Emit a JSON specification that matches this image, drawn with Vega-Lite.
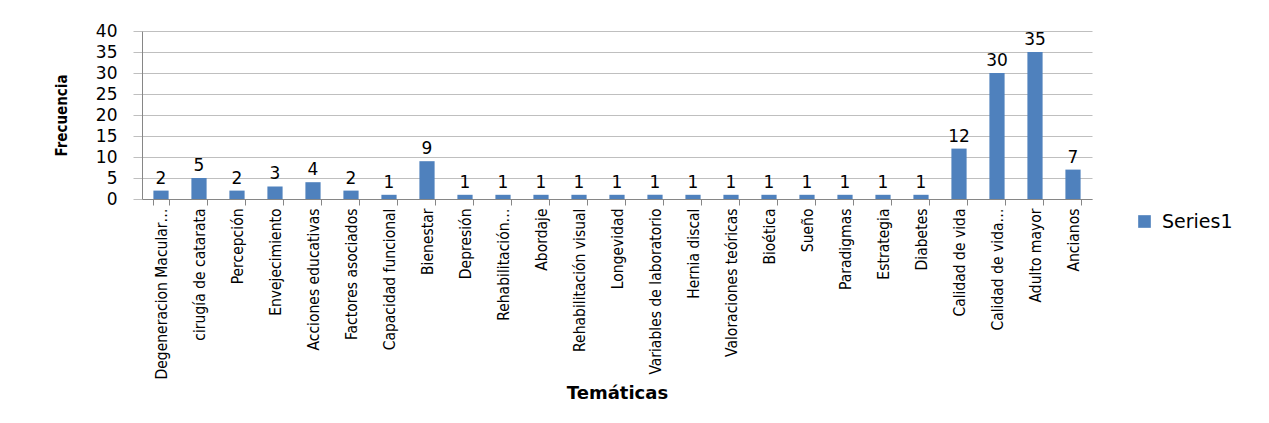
{
  "$schema": "https://vega.github.io/schema/vega-lite/v6.json",
  "autosize": {"type": "none"},
  "width": 950,
  "height": 168,
  "padding": {"left": 142, "top": 31, "right": 177, "bottom": 224},
  "background": "white",
  "data": {
    "values": [
      {"tematica": "Degeneracion Macular…", "frecuencia": 2, "serie": "Series1"},
      {"tematica": "cirugía de catarata", "frecuencia": 5, "serie": "Series1"},
      {"tematica": "Percepción", "frecuencia": 2, "serie": "Series1"},
      {"tematica": "Envejecimiento", "frecuencia": 3, "serie": "Series1"},
      {"tematica": "Acciones educativas", "frecuencia": 4, "serie": "Series1"},
      {"tematica": "Factores asociados", "frecuencia": 2, "serie": "Series1"},
      {"tematica": "Capacidad funcional", "frecuencia": 1, "serie": "Series1"},
      {"tematica": "Bienestar", "frecuencia": 9, "serie": "Series1"},
      {"tematica": "Depresión", "frecuencia": 1, "serie": "Series1"},
      {"tematica": "Rehabilitación…", "frecuencia": 1, "serie": "Series1"},
      {"tematica": "Abordaje", "frecuencia": 1, "serie": "Series1"},
      {"tematica": "Rehabilitación visual", "frecuencia": 1, "serie": "Series1"},
      {"tematica": "Longevidad", "frecuencia": 1, "serie": "Series1"},
      {"tematica": "Variables de laboratorio", "frecuencia": 1, "serie": "Series1"},
      {"tematica": "Hernia discal", "frecuencia": 1, "serie": "Series1"},
      {"tematica": "Valoraciones teóricas", "frecuencia": 1, "serie": "Series1"},
      {"tematica": "Bioética", "frecuencia": 1, "serie": "Series1"},
      {"tematica": "Sueño", "frecuencia": 1, "serie": "Series1"},
      {"tematica": "Paradigmas", "frecuencia": 1, "serie": "Series1"},
      {"tematica": "Estrategia", "frecuencia": 1, "serie": "Series1"},
      {"tematica": "Diabetes", "frecuencia": 1, "serie": "Series1"},
      {"tematica": "Calidad de vida", "frecuencia": 12, "serie": "Series1"},
      {"tematica": "Calidad de vida…", "frecuencia": 30, "serie": "Series1"},
      {"tematica": "Adulto mayor", "frecuencia": 35, "serie": "Series1"},
      {"tematica": "Ancianos", "frecuencia": 7, "serie": "Series1"}
    ]
  },
  "encoding": {
    "x": {
      "field": "tematica",
      "type": "nominal",
      "sort": null,
      "scale": {"paddingInner": 0.6, "paddingOuter": 0.3},
      "axis": {
        "title": "Temáticas",
        "titleFont": "DejaVu Sans",
        "titleFontWeight": "bold",
        "titleFontSize": 18,
        "titleColor": "black",
        "titlePadding": 6,
        "labelAngle": -90,
        "labelFont": "Liberation Sans Narrow, DejaVu Sans Condensed, sans-serif",
        "labelFontSize": 15.5,
        "labelColor": "black",
        "labelPadding": 3,
        "labelLimit": 300,
        "tickBand": "extent",
        "tickSize": 6,
        "tickColor": "#868686",
        "domainColor": "#868686",
        "grid": false
      }
    },
    "y": {
      "field": "frecuencia",
      "type": "quantitative",
      "scale": {"domain": [0, 40], "nice": false},
      "axis": {
        "title": "Frecuencia",
        "titleFont": "Liberation Sans Narrow, DejaVu Sans Condensed, sans-serif",
        "titleFontWeight": "bold",
        "titleFontSize": 15,
        "titleColor": "black",
        "titlePadding": 26,
        "values": [0, 5, 10, 15, 20, 25, 30, 35, 40],
        "labelFont": "DejaVu Sans",
        "labelFontSize": 17,
        "labelColor": "black",
        "labelPadding": 16,
        "tickSize": 9,
        "tickColor": "#BFBFBF",
        "domainColor": "#868686",
        "grid": true,
        "gridColor": "#BFBFBF"
      }
    }
  },
  "layer": [
    {
      "mark": {"type": "bar"},
      "encoding": {
        "color": {
          "field": "serie",
          "type": "nominal",
          "scale": {"domain": ["Series1"], "range": ["#4F81BD"]},
          "legend": {
            "title": null,
            "orient": "none",
            "legendX": 993,
            "legendY": 181,
            "symbolType": "square",
            "symbolSize": 160,
            "symbolStrokeWidth": 0,
            "labelFont": "DejaVu Sans",
            "labelFontSize": 19,
            "labelColor": "black",
            "labelOffset": 8
          }
        }
      }
    },
    {
      "mark": {"type": "text", "font": "DejaVu Sans", "fontSize": 17, "color": "black", "baseline": "alphabetic", "dy": -7},
      "encoding": {
        "text": {"field": "frecuencia", "type": "quantitative"}
      }
    }
  ],
  "config": {
    "view": {"stroke": null}
  }
}
